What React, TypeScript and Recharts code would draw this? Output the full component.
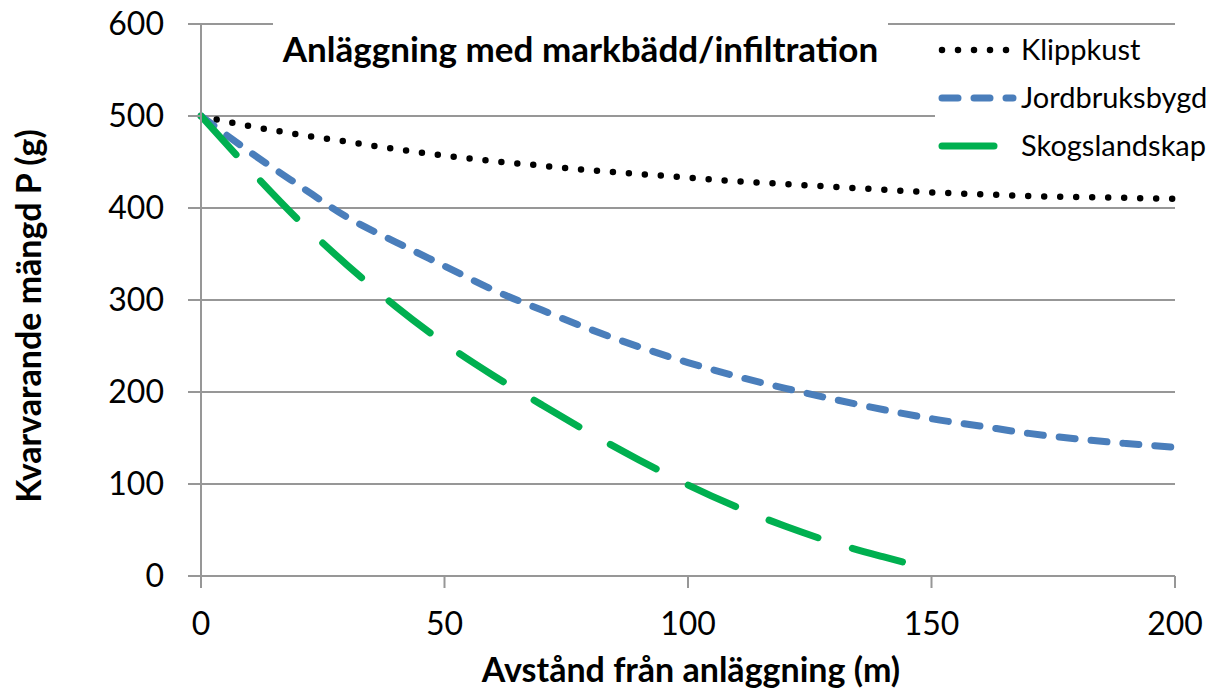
import React from 'react';
import { LineChart, Line, XAxis, YAxis, CartesianGrid } from 'recharts';

const distances = [0, 10, 20, 30, 40, 50, 60, 70, 80, 90, 100, 110, 120, 130, 140, 150, 160, 170, 180, 190, 200];
const klippkust = [500, 489, 480, 472, 464, 457, 451, 446, 441, 437, 433, 429, 426, 423, 420, 417, 415, 413, 412, 411, 410];
const jordbruksbygd = [500, 461, 425, 390, 363, 337, 311, 289, 268, 249, 232, 217, 204, 192, 181, 171, 163, 155, 149, 144, 140];
const skogDistances = [0, 10, 20, 30, 40, 50, 60, 70, 80, 90, 100, 110, 120, 130, 140, 145];
const skogslandskap = [500, 442, 387, 338, 293, 253, 218, 186, 155, 126, 99, 75, 54, 36, 21, 14];

const xTicks = [0, 50, 100, 150, 200];
const yTicks = [0, 100, 200, 300, 400, 500, 600];

const FONT = 'Lato, "Open Sans", sans-serif';
const GRID = '#979797';

const series = [
  { name: 'Klippkust', color: '#000000', width: 6.5, dash: '0 16', data: distances.map((d, i) => ({ x: d, y: klippkust[i] })) },
  { name: 'Jordbruksbygd', color: '#4a7ebb', width: 7, dash: '16 16', data: distances.map((d, i) => ({ x: d, y: jordbruksbygd[i] })) },
  { name: 'Skogslandskap', color: '#00b050', width: 7, dash: '52 36', data: skogDistances.map((d, i) => ({ x: d, y: skogslandskap[i] })) },
];

const XTick = ({ x, y, payload }: any) => (
  <text x={x} y={y} dy={45} textAnchor="middle" fontFamily={FONT} fontSize={32} fill="#000">
    {payload.value}
  </text>
);

const YTick = ({ x, y, payload }: any) => (
  <text x={x} y={y} dx={-22} dy={11} textAnchor="end" fontFamily={FONT} fontSize={32} fill="#000">
    {payload.value}
  </text>
);

const ChartLegend = () => (
  <svg width={284} height={150} style={{ position: 'absolute', left: 935, top: 26, background: '#fff' }}>
    {series.map((s, i) => {
      const cy = 24 + i * 48;
      return (
        <g key={s.name}>
          <line x1={7} x2={78} y1={cy} y2={cy} stroke={s.color} strokeWidth={s.width} strokeDasharray={s.dash} strokeLinecap="round" />
          <text x={86} y={cy + 10} fontFamily={FONT} fontSize={29} fill="#000">{s.name}</text>
        </g>
      );
    })}
  </svg>
);

export default function App() {
  return (
    <div style={{ position: 'absolute', left: 0, top: 0, width: 1219, height: 697, background: '#fff' }}>
      <LineChart width={1219} height={697} margin={{ top: 24, right: 44, left: 0, bottom: 0 }}>
        <CartesianGrid vertical={false} stroke={GRID} strokeWidth={2} />
        <XAxis
          dataKey="x"
          type="number"
          domain={[0, 200]}
          ticks={xTicks}
          height={121}
          axisLine={false}
          tickLine={{ stroke: GRID, strokeWidth: 2 }}
          tickSize={12}
          tick={<XTick />}
          label={{
            content: ({ viewBox }: any) => (
              <text x={viewBox.x + viewBox.width / 2 + 3} y={682} textAnchor="middle" fontFamily={FONT} fontSize={34} fontWeight="bold" fill="#000">
                Avstånd från anläggning (m)
              </text>
            ),
          }}
        />
        <YAxis
          type="number"
          domain={[0, 600]}
          ticks={yTicks}
          width={201}
          axisLine={{ stroke: GRID, strokeWidth: 2 }}
          tickLine={{ stroke: GRID, strokeWidth: 2 }}
          tickSize={13}
          tick={<YTick />}
          label={{
            content: () => (
              <text x={41} y={316} transform="rotate(-90, 41, 316)" textAnchor="middle" fontFamily={FONT} fontSize={34} fontWeight="bold" fill="#000">
                Kvarvarande mängd P (g)
              </text>
            ),
          }}
        />
        {series.map((s) => (
          <Line
            key={s.name}
            data={s.data}
            dataKey="y"
            name={s.name}
            type="monotone"
            stroke={s.color}
            strokeWidth={s.width}
            strokeDasharray={s.dash}
            strokeLinecap="round"
            dot={false}
            activeDot={false}
            isAnimationActive={false}
          />
        ))}
      </LineChart>
      <ChartLegend />
      <div
        style={{
          position: 'absolute',
          left: 273,
          top: 12,
          width: 615,
          height: 72,
          background: '#fff',
          fontFamily: FONT,
          fontWeight: 'bold',
          fontSize: 35,
          color: '#000',
          textAlign: 'center',
          lineHeight: '72px',
        }}
      >
        Anläggning med markbädd/infiltration
      </div>
    </div>
  );
}
